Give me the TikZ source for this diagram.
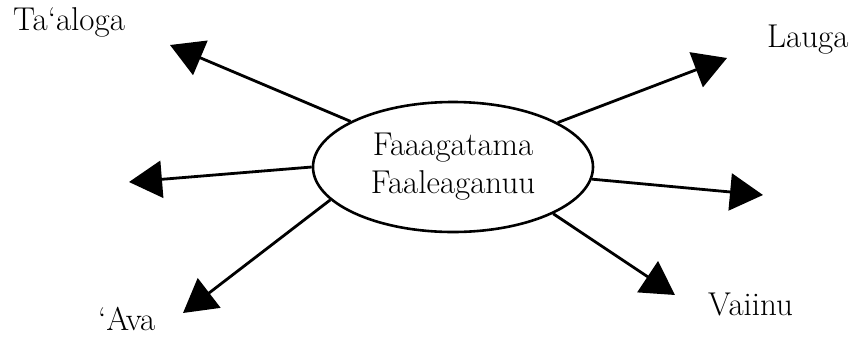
\documentclass[tikz,border=0pt]{standalone}
\usepackage{fontspec}
\usetikzlibrary{arrows.meta,shapes.geometric}
\begin{document}
\begin{tikzpicture}[x=1pt,y=-1pt,
  bigtxt/.style={font=\fontsize{33}{38}\selectfont},
  lbl/.style={bigtxt,anchor=base west,inner sep=0pt},
  conn/.style={line width=2.8pt,-{Triangle[length=33pt,width=37pt]}},
  hub/.style={draw,ellipse,line width=2.6pt,minimum width=280pt,minimum height=130pt,inner sep=0pt,align=center,bigtxt}]
\useasboundingbox (0,0) rectangle (858,338);
\node[hub] (c) at (453,167) {Faaagatama\\Faaleaganuu};
\coordinate (t1) at (170,45);
\coordinate (t2) at (727,58);
\coordinate (t3) at (129,182);
\coordinate (t4) at (763,195);
\coordinate (t5) at (183,313);
\coordinate (t6) at (675,295);
\draw[conn] (c.156) -- (t1);
\draw[conn] (c.23) -- (t2);
\draw[conn] (c.180.4) -- (t3);
\draw[conn] (c.355.6) -- (t4);
\draw[conn] (c.195) -- (t5);
\draw[conn] (c.335.7) -- (t6);
\node[lbl] (l1) at (13,30) {Ta`aloga};
\node[lbl] (l2) at (767,47) {Lauga};
\node[lbl] (l5) at (98,330) {`Ava};
\node[lbl] (l6) at (708,315) {Vaiinu};
\end{tikzpicture}
\end{document}
